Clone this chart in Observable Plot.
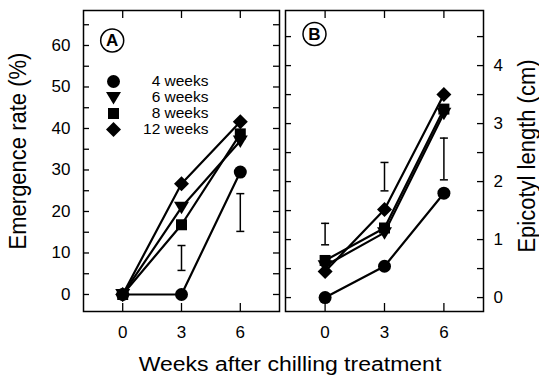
<!DOCTYPE html>
<html><head><meta charset="utf-8">
<script src="https://cdn.jsdelivr.net/npm/d3@7"></script>
<script src="https://cdn.jsdelivr.net/npm/@observablehq/plot@0.6"></script>
<style>
body{margin:0;background:#fff;}
#wrap{position:relative;width:539px;height:377px;overflow:hidden;font-family:"Liberation Sans",Arial,sans-serif;background:#fff;}
#wrap svg{position:absolute;left:0;top:0;}
.lab{position:absolute;white-space:nowrap;color:#000;line-height:1;}
</style></head><body><div id="wrap"></div>
<script>
// ---- data ----
const weeks = [0, 3, 6];
const series = ["4 weeks", "6 weeks", "8 weeks", "12 weeks"];
const emergence4 = [0, 0, 29.5];
const emergence6 = [0, 21, 37];
const emergence8 = [0, 16.8, 38.7];
const emergence12 = [0, 26.7, 41.6];
const epicotyl4 = [0, 0.54, 1.8];
const epicotyl6 = [0.55, 1.12, 3.18];
const epicotyl8 = [0.64, 1.2, 3.25];
const epicotyl12 = [0.45, 1.52, 3.5];
const emergenceErrWeeks = [3, 6];
const emergenceErrLow = [5.8, 15.2];
const emergenceErrHigh = [11.8, 24.3];
const epicotylErrWeeks = [0, 3, 6];
const epicotylErrLow = [0.91, 1.84, 2.03];
const epicotylErrHigh = [1.28, 2.33, 2.75];
const emergenceTickLabels = [0, 10, 20, 30, 40, 50, 60];
const emergenceTickMarks = [0, 5, 10, 15, 20, 25, 30, 35, 40, 45, 50, 55, 60, 65];
const epicotylTickLabels = [0, 1, 2, 3, 4];
const epicotylTickMarks = [0, 0.5, 1, 1.5, 2, 2.5, 3, 3.5, 4, 4.5];
const xLabel = "Weeks after chilling treatment";
const yLabelA = "Emergence rate (%)";
const yLabelB = "Epicotyl length (cm)";

// ---- symbols ----
const sym = {
  "4 weeks": {draw(c) { c.moveTo(6.5, 0); c.arc(0, 0, 6.5, 0, 2 * Math.PI); c.closePath(); }},
  "6 weeks": {draw(c) { c.moveTo(-7.5, -5.5); c.lineTo(7.5, -5.5); c.lineTo(0, 7); c.closePath(); }},
  "8 weeks": {draw(c) { c.moveTo(-5.5, -5.5); c.lineTo(5.5, -5.5); c.lineTo(5.5, 5.5); c.lineTo(-5.5, 5.5); c.closePath(); }},
  "12 weeks": {draw(c) { c.moveTo(0, -7.5); c.lineTo(7.5, 0); c.lineTo(0, 7.5); c.lineTo(-7.5, 0); c.closePath(); }}
};
const cap = {draw(c) { c.moveTo(-4, 0); c.lineTo(4, 0); }};

function rowsOf(arrs) {
  const out = [];
  series.forEach((s, k) => weeks.forEach((w, i) => out.push({series: s, week: w, value: arrs[k][i]})));
  return out;
}
function errRows(ws, lo, hi) { return ws.map((w, i) => ({week: w, lo: lo[i], hi: hi[i]})); }

const font = {background: "transparent", fontFamily: "'Liberation Sans', Arial, sans-serif", fontSize: "17px", color: "black", overflow: "visible"};

function panel({width, marginLeft, marginRight, yDomain, tickMarks, tickLabels, labelAnchor, tickPadding, rows, errs, letter, ldx, ldy}) {
  const H = 377, mt = 10, mb = 66;
  const W = width - marginLeft - marginRight, IH = H - mt - mb;
  return Plot.plot({
    width, height: H, marginLeft, marginRight, marginTop: mt, marginBottom: mb,
    style: font,
    x: {domain: [-2, 8]},
    y: {domain: yDomain},
    marks: [
      Plot.frame({stroke: "black", strokeWidth: 1.5}),
      Plot.tickY(tickMarks, {y: d => d, insetRight: W - 6, stroke: "black", strokeWidth: 1.3}),
      Plot.tickY(tickMarks, {y: d => d, insetLeft: W - 6, stroke: "black", strokeWidth: 1.3}),
      Plot.tickX(weeks, {x: d => d, insetBottom: IH - 8, stroke: "black", strokeWidth: 1.3}),
      Plot.tickX(weeks, {x: d => d, insetTop: IH - 8, stroke: "black", strokeWidth: 1.3}),
      Plot.axisX({ticks: weeks, tickSize: 0, tickPadding: 14, label: null, tickFormat: d => String(d)}),
      Plot.axisY({anchor: labelAnchor, ticks: tickLabels, tickSize: 0, tickPadding, label: null, tickFormat: d => String(d)}),
      Plot.ruleX(errs, {x: "week", y1: "lo", y2: "hi", stroke: "black", strokeWidth: 1.5}),
      Plot.dot(errs, {x: "week", y: "lo", symbol: cap, stroke: "black", fill: "none", strokeWidth: 1.5}),
      Plot.dot(errs, {x: "week", y: "hi", symbol: cap, stroke: "black", fill: "none", strokeWidth: 1.5}),
      Plot.line(rows, {x: "week", y: "value", z: "series", stroke: "black", strokeWidth: 2.2}),
      ...series.slice().reverse().map(s => Plot.dot(rows.filter(r => r.series === s), {x: "week", y: "value", symbol: sym[s], fill: "black", stroke: "none"})),
      Plot.dot([letter], {frameAnchor: "top-left", dx: ldx, dy: ldy, r: 11.5, stroke: "black", fill: "white", strokeWidth: 1.5}),
      Plot.text([letter], {frameAnchor: "top-left", textAnchor: "middle", lineAnchor: "middle", dx: ldx, dy: ldy + 0.5, text: d => d, fontWeight: "bold", fontSize: 17, fill: "black"})
    ]
  });
}

const wrap = document.getElementById("wrap");

const pA = panel({
  width: 285, marginLeft: 83, marginRight: 6,
  yDomain: [-4.1, 68.43], tickMarks: emergenceTickMarks, tickLabels: emergenceTickLabels,
  labelAnchor: "left", tickPadding: 13,
  rows: rowsOf([emergence4, emergence6, emergence8, emergence12]),
  errs: errRows(emergenceErrWeeks, emergenceErrLow, emergenceErrHigh),
  letter: "A", ldx: 28.7, ldy: 30
});
const pB = panel({
  width: 539, marginLeft: 285, marginRight: 56,
  yDomain: [-0.24, 4.95], tickMarks: epicotylTickMarks, tickLabels: epicotylTickLabels,
  labelAnchor: "right", tickPadding: 10,
  rows: rowsOf([epicotyl4, epicotyl6, epicotyl8, epicotyl12]),
  errs: errRows(epicotylErrWeeks, epicotylErrLow, epicotylErrHigh),
  letter: "B", ldx: 29, ldy: 23.5
});
wrap.appendChild(pA);
wrap.appendChild(pB);

// legend
const legend = Plot.plot({
  width: 112, height: 90, margin: 0,
  style: {...font, fontSize: "15px"},
  y: {type: "point", domain: series, range: [12.7, 76.7], axis: null},
  marks: [
    ...series.map(s => Plot.dot([s], {y: d => d, frameAnchor: "left", dx: 13, symbol: sym[s], fill: "black", stroke: "none"})),
    Plot.text(series, {y: d => d, text: d => d, frameAnchor: "right", textAnchor: "end", dx: -4, fontSize: 15.5, fill: "black"})
  ]
});
legend.style.left = "100px";
legend.style.top = "60px";
wrap.appendChild(legend);

// axis titles
function lab(text, x, y, size, tf) {
  const d = document.createElement("div");
  d.className = "lab";
  d.textContent = text;
  d.style.left = x + "px";
  d.style.top = y + "px";
  d.style.fontSize = size + "px";
  d.style.transform = "translate(-50%,-50%) " + tf;
  wrap.appendChild(d);
}
lab(yLabelA, 18, 151, 22, "rotate(-90deg) scaleY(1.1)");
lab(yLabelB, 527, 156, 22, "rotate(-90deg) scaleY(1.1)");
lab(xLabel, 290, 364, 20, "scaleX(1.15)");
</script></body></html>
